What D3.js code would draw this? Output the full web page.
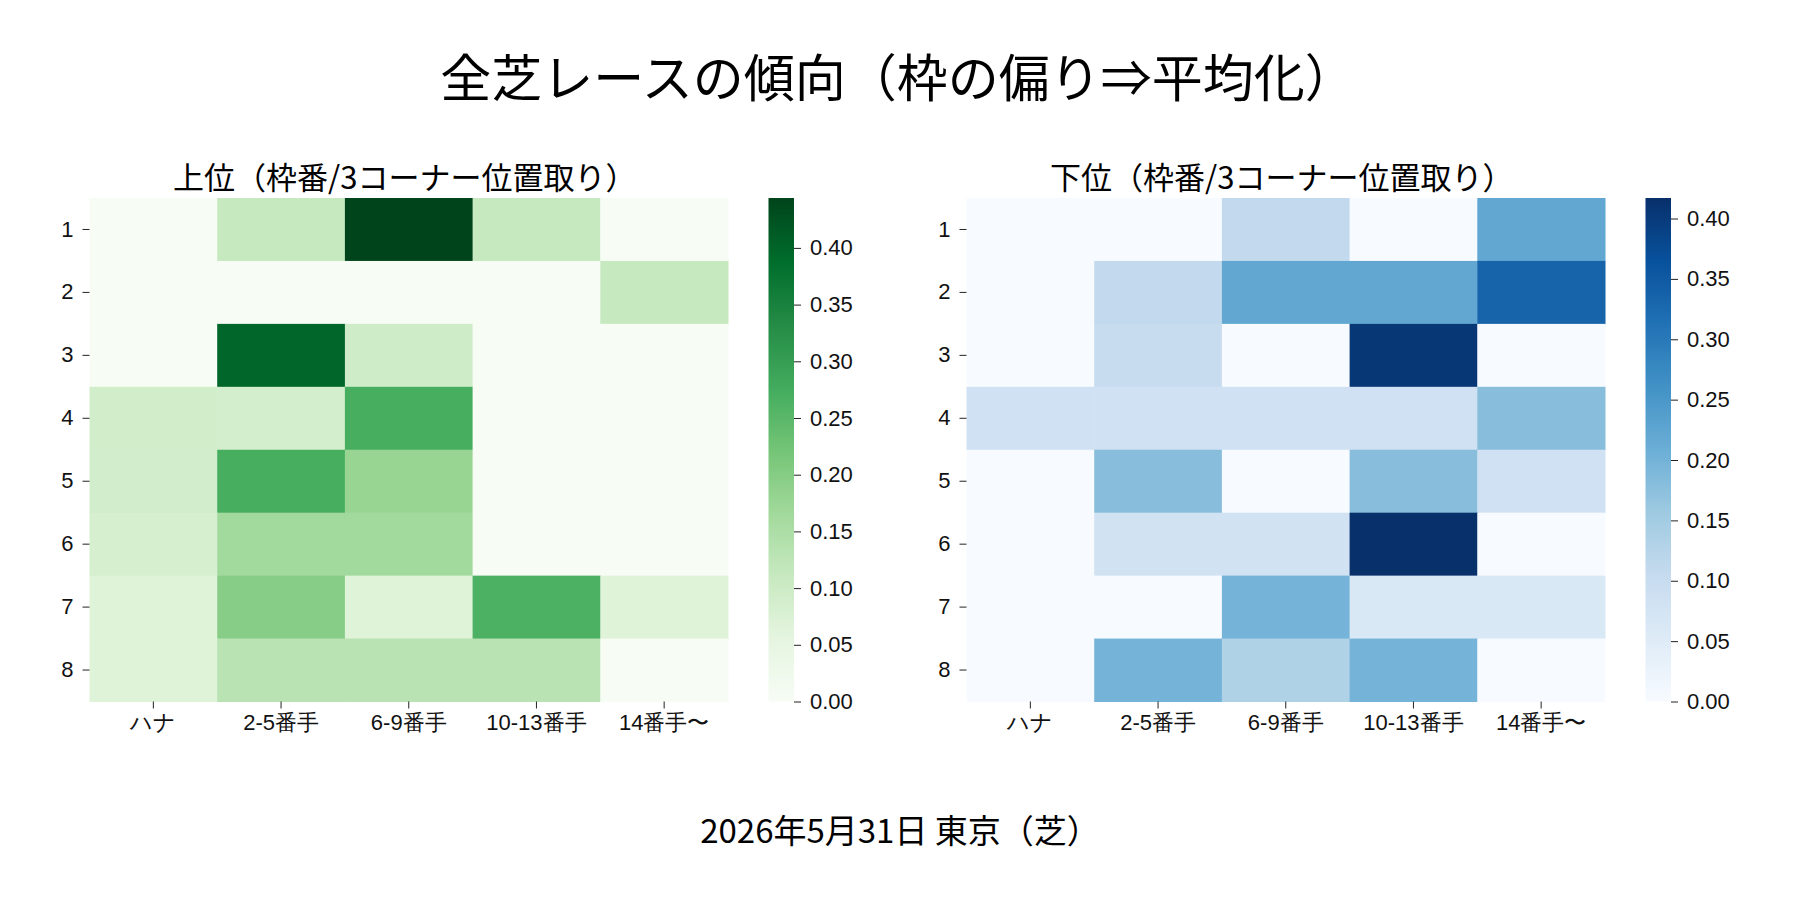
<!DOCTYPE html>
<html>
<head>
<meta charset="utf-8">
<script src="https://cdn.jsdelivr.net/npm/d3@7"></script>
<style>
    body { margin: 0; background: #fff; }
    svg { font-family: "Noto Sans CJK JP", "Noto Sans", sans-serif; }
    .tick line { stroke: #222; }
    .tick text { fill: #111; }
</style>
</head>
<body>
<svg></svg>
<script>
// 枠番 (rows) and 3コーナー位置取り (columns)
const frames = ["1", "2", "3", "4", "5", "6", "7", "8"];
const positions = ["ハナ", "2-5番手", "6-9番手", "10-13番手", "14番手〜"];

// 上位
const topValues = [
    [0.000, 0.111, 0.444, 0.111, 0.000],
    [0.000, 0.000, 0.000, 0.000, 0.111],
    [0.000, 0.398, 0.096, 0.000, 0.000],
    [0.093, 0.089, 0.271, 0.000, 0.000],
    [0.092, 0.271, 0.178, 0.000, 0.000],
    [0.085, 0.165, 0.165, 0.000, 0.000],
    [0.067, 0.197, 0.067, 0.265, 0.067],
    [0.067, 0.131, 0.131, 0.131, 0.000]
];

// 下位
const bottomValues = [
    [0.000, 0.000, 0.108, 0.000, 0.221],
    [0.000, 0.108, 0.221, 0.221, 0.334],
    [0.000, 0.100, 0.000, 0.406, 0.000],
    [0.085, 0.085, 0.085, 0.085, 0.179],
    [0.000, 0.179, 0.000, 0.179, 0.085],
    [0.000, 0.081, 0.081, 0.417, 0.000],
    [0.000, 0.000, 0.198, 0.063, 0.063],
    [0.000, 0.198, 0.133, 0.198, 0.000]
];

const colorbarTicks = [0, 0.05, 0.10, 0.15, 0.20, 0.25, 0.30, 0.35, 0.40];

const greens = ["#f7fcf5", "#e5f5e0", "#c7e9c0", "#a1d99b", "#74c476", "#41ab5d", "#238b45", "#006d2c", "#00441b"];
const blues = ["#f7fbff", "#deebf7", "#c6dbef", "#9ecae1", "#6baed6", "#4292c6", "#2171b5", "#08519c", "#08306b"];

const width = 1800, height = 900;
const svg = d3.select("svg").attr("width", width).attr("height", height);
const defs = svg.append("defs");

const top0 = 198, bottom0 = 701.5, mapW = 638.5, cbW = 25.5, cbGap = 40.5;

svg.append("text")
    .attr("x", 898).attr("y", 75)
    .attr("text-anchor", "middle").attr("dominant-baseline", "central")
    .style("font-size", "51px")
    .text("全芝レースの傾向（枠の偏り⇒平均化）");

svg.append("text")
    .attr("x", 900).attr("y", 829)
    .attr("text-anchor", "middle").attr("dominant-baseline", "central")
    .style("font-size", "33px")
    .text("2026年5月31日 東京（芝）");

let drawPanel = (id, left, title, values, colors) => {
    let vmax = d3.max(values.flat());
    let color = d3.scaleLinear()
        .domain(d3.range(colors.length).map(i => vmax * i / (colors.length - 1)))
        .range(colors);

    let x = d3.scaleBand().domain(positions).range([left, left + mapW]);
    let y = d3.scaleBand().domain(frames).range([top0, bottom0]);

    let g = svg.append("g").attr("id", id);

    g.append("text")
        .attr("x", left + mapW / 2 - 4).attr("y", 175)
        .attr("text-anchor", "middle").attr("dominant-baseline", "central")
        .style("font-size", "31px")
        .text(title);

    let cells = [];
    values.forEach((row, i) => row.forEach((v, j) => cells.push({frame: frames[i], pos: positions[j], v: v})));

    g.append("g").selectAll("rect")
        .data(cells)
        .enter()
        .append("rect")
            .attr("x", d => x(d.pos))
            .attr("y", d => y(d.frame))
            .attr("width", x.bandwidth() + 0.5)
            .attr("height", y.bandwidth() + 0.5)
            .attr("fill", d => color(d.v));

    g.append("g")
        .attr("transform", "translate(0," + bottom0 + ")")
        .call(d3.axisBottom(x).tickSize(7).tickPadding(6))
        .call(a => a.select(".domain").remove())
        .selectAll("text").style("font-size", "22px");

    g.append("g")
        .attr("transform", "translate(" + left + ",0)")
        .call(d3.axisLeft(y).tickSize(7).tickPadding(9))
        .call(a => a.select(".domain").remove())
        .selectAll("text").style("font-size", "22px");

    // colorbar
    let cbX = left + mapW + cbGap;
    let grad = defs.append("linearGradient")
        .attr("id", id + "-grad")
        .attr("x1", 0).attr("y1", 1).attr("x2", 0).attr("y2", 0);
    grad.selectAll("stop")
        .data(colors)
        .enter()
        .append("stop")
            .attr("offset", (d, i) => i / (colors.length - 1))
            .attr("stop-color", d => d);

    g.append("rect")
        .attr("x", cbX).attr("y", top0)
        .attr("width", cbW).attr("height", bottom0 - top0)
        .attr("fill", "url(#" + id + "-grad)");

    let cbScale = d3.scaleLinear().domain([0, vmax]).range([bottom0, top0]);
    g.append("g")
        .attr("transform", "translate(" + (cbX + cbW) + ",0)")
        .call(d3.axisRight(cbScale).tickValues(colorbarTicks).tickFormat(d3.format(".2f")).tickSize(7).tickPadding(9))
        .call(a => a.select(".domain").remove())
        .selectAll("text").style("font-size", "22px");
};

drawPanel("upper", 89.5, "上位（枠番/3コーナー位置取り）", topValues, greens);
drawPanel("lower", 966.5, "下位（枠番/3コーナー位置取り）", bottomValues, blues);
</script>
</body>
</html>
